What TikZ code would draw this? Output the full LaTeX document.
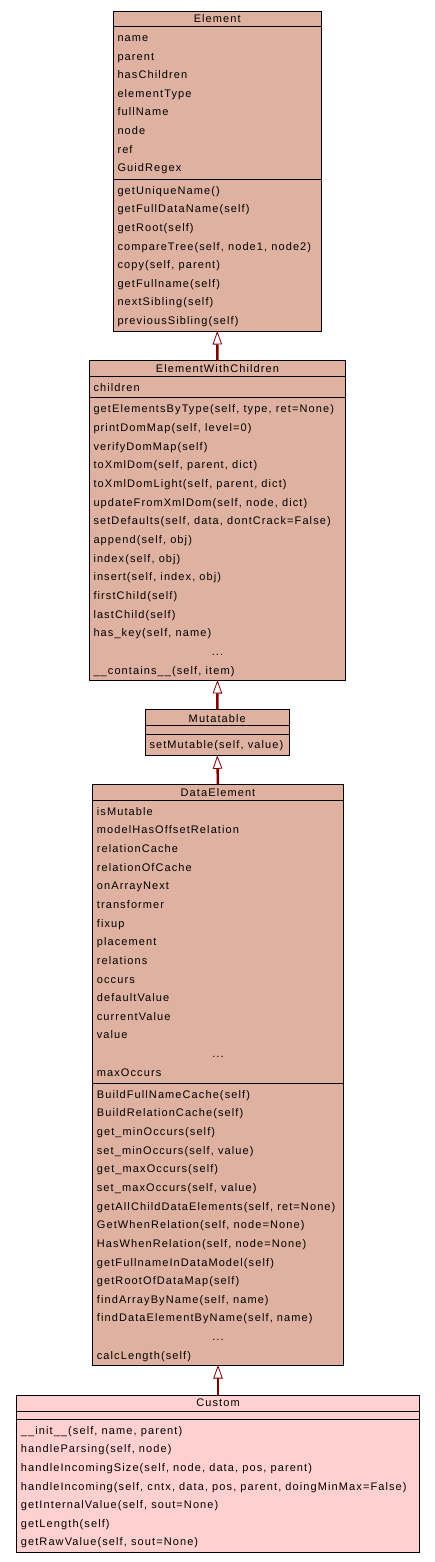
\documentclass[tikz,border=0pt]{standalone}
\usepackage{fontspec}
\setmainfont{Liberation Sans}[LetterSpace=10]
\usetikzlibrary{arrows.meta}
\definecolor{clsfill}{RGB}{222,177,160}
\definecolor{custfill}{RGB}{254,208,208}
\definecolor{inhred}{RGB}{128,0,0}
\begin{document}
\begin{tikzpicture}[x=1pt, y=-1pt,
  font=\fontsize{11}{13}\selectfont,
  cls/.style={draw=black, line width=1pt, fill=clsfill, inner sep=0pt, outer sep=0pt, anchor=north west},
  custcls/.style={cls, fill=custfill},
  divider/.style={draw=black, line width=1pt},
  txt/.style={anchor=base west, inner sep=0pt},
  ttl/.style={anchor=base, inner sep=0pt},
  inh/.style={draw=inhred, line width=2.5pt,
    -{Triangle[width=9.5pt, length=13.5pt, fill=white, line width=0.8pt 0]}}
]
\useasboundingbox (0,0) rectangle (434,1562);

% ---------------- Element ----------------
\node[cls, minimum width=208.5pt, minimum height=319pt] (element) at (113,12) {};
\draw[divider] (113,27) -- (321.5,27);
\draw[divider] (113,179.5) -- (321.5,179.5);
\node[ttl] (element-t) at (217.25,22.7) {Element};
\foreach \t [count=\i from 0] in {name,parent,hasChildren,elementType,fullName,node,ref,GuidRegex}
  \node[txt] (element-a\i) at (117.3,{41.5+18.6*\i}) {\t};
\foreach \t [count=\i from 0] in {getUniqueName(),getFullDataName(self),getRoot(self),
  {compareTree(self, node1, node2)},{copy(self, parent)},getFullname(self),nextSibling(self),previousSibling(self)}
  \node[txt] (element-m\i) at (117.3,{194.3+18.6*\i}) {\t};

% ---------------- ElementWithChildren ----------------
\node[cls, minimum width=256.4pt, minimum height=319.3pt] (ewc) at (89.3,360.7) {};
\draw[divider] (89.3,376.7) -- (345.7,376.7);
\draw[divider] (89.3,397.7) -- (345.7,397.7);
\node[ttl] (ewc-t) at (217.5,372.3) {ElementWithChildren};
\node[txt] (ewc-a0) at (93.3,391) {children};
\foreach \t [count=\i from 0] in {{getElementsByType(self, type, ret=None)},{printDomMap(self, level=0)},
  verifyDomMap(self),{toXmlDom(self, parent, dict)},{toXmlDomLight(self, parent, dict)},
  {updateFromXmlDom(self, node, dict)},{setDefaults(self, data, dontCrack=False)},
  {append(self, obj)},{index(self, obj)},{insert(self, index, obj)},firstChild(self),lastChild(self),
  {has\_key(self, name)}}
  \node[txt] (ewc-m\i) at (93.3,{412.8+18.68*\i}) {\t};
\node[ttl] (ewc-dots) at (217.5,{412.8+18.68*13}) {...};
\node[txt] (ewc-m14) at (93.3,{412.8+18.68*14}) {\_\_contains\_\_(self, item)};

% ---------------- Mutatable ----------------
\node[cls, minimum width=144pt, minimum height=46pt] (mut) at (145.3,709.3) {};
\draw[divider] (145.3,725.7) -- (289.3,725.7);
\draw[divider] (145.3,734) -- (289.3,734);
\node[ttl] (mut-t) at (217.3,722) {Mutatable};
\node[txt] (mut-m0) at (149.3,748.3) {setMutable(self, value)};

% ---------------- DataElement ----------------
\node[cls, minimum width=250.6pt, minimum height=580.7pt] (de) at (92.7,784.3) {};
\draw[divider] (92.7,800.7) -- (343.3,800.7);
\draw[divider] (92.7,1083.3) -- (343.3,1083.3);
\node[ttl] (de-t) at (218,796) {DataElement};
\foreach \t [count=\i from 0] in {isMutable,modelHasOffsetRelation,relationCache,relationOfCache,
  onArrayNext,transformer,fixup,placement,relations,occurs,defaultValue,currentValue,value}
  \node[txt] (de-a\i) at (96.7,{815.3+18.64*\i}) {\t};
\node[ttl] (de-adots) at (218,{815.3+18.64*13}) {...};
\node[txt] (de-a14) at (96.7,{815.3+18.64*14}) {maxOccurs};
\foreach \t [count=\i from 0] in {BuildFullNameCache(self),BuildRelationCache(self),
  get\_minOccurs(self),{set\_minOccurs(self, value)},get\_maxOccurs(self),{set\_maxOccurs(self, value)},
  {getAllChildDataElements(self, ret=None)},{GetWhenRelation(self, node=None)},
  {HasWhenRelation(self, node=None)},getFullnameInDataModel(self),getRootOfDataMap(self),
  {findArrayByName(self, name)},{findDataElementByName(self, name)}}
  \node[txt] (de-m\i) at (96.7,{1098.3+18.64*\i}) {\t};
\node[ttl] (de-mdots) at (218,{1098.3+18.64*13}) {...};
\node[txt] (de-m14) at (96.7,{1098.3+18.64*14}) {calcLength(self)};

% ---------------- Custom ----------------
\node[custcls, minimum width=402.6pt, minimum height=156.7pt] (custom) at (16.7,1395.3) {};
\draw[divider] (16.7,1411.3) -- (419.3,1411.3);
\draw[divider] (16.7,1419.3) -- (419.3,1419.3);
\node[ttl] (custom-t) at (218,1406.7) {Custom};
\foreach \t [count=\i from 0] in {{\_\_init\_\_(self, name, parent)},{handleParsing(self, node)},
  {handleIncomingSize(self, node, data, pos, parent)},
  {handleIncoming(self, cntx, data, pos, parent, doingMinMax=False)},
  {getInternalValue(self, sout=None)},getLength(self),{getRawValue(self, sout=None)}}
  \node[txt] (custom-m\i) at (20.7,{1434.3+18.6*\i}) {\t};

% ---------------- Inheritance ----------------
\draw[inh] (ewc.north) -- (element.south);
\draw[inh] (mut.north) -- (ewc.south);
\draw[inh] (de.north) -- (mut.south);
\draw[inh] (custom.north) -- (de.south);
\end{tikzpicture}
\end{document}
